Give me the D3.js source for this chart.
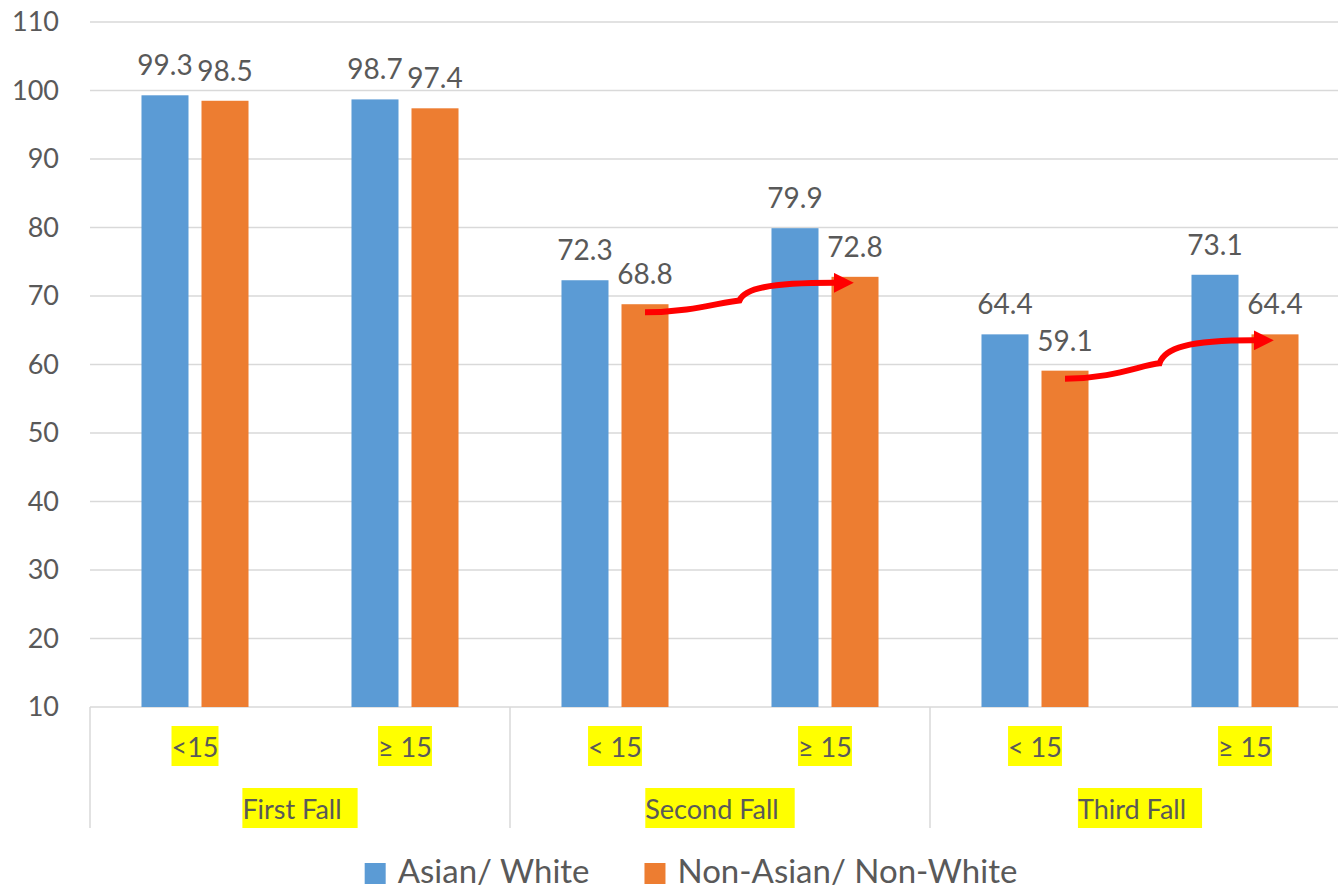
<!DOCTYPE html>
<html>
<head>
<meta charset="utf-8">
<script src="https://cdn.jsdelivr.net/npm/d3@7"></script>
<style>
  body { margin: 0; background: #fff; }
  text { font-family: Lato, "Open Sans", sans-serif; fill: #595959; }
</style>
</head>
<body>
<svg id="main" width="1338" height="890"></svg>
<script>
// chart data
var groups = ["First Fall", "Second Fall", "Third Fall"];
var subLabels = ["<15", "\u2265 15", "< 15", "\u2265 15", "< 15", "\u2265 15"];
var seriesNames = ["Asian/ White", "Non-Asian/ Non-White"];
var asianWhite = [99.3, 98.7, 72.3, 79.9, 64.4, 73.1];
var nonAsianWhite = [98.5, 97.4, 68.8, 72.8, 59.1, 64.4];
var yTicks = [10, 20, 30, 40, 50, 60, 70, 80, 90, 100, 110];
// red arrows: from sub-category -> to sub-category (orange series)
var arrowFrom = [2, 4];
var arrowTo = [3, 5];

var colors = ["#5B9BD5", "#ED7D31"];
var plotLeft = 90, plotRight = 1350, plotTop = 22, plotBottom = 707;

var svg = d3.select("#main");

var y = d3.scaleLinear().domain([10, 110]).range([plotBottom, plotTop]);
var x0 = d3.scaleBand().domain(d3.range(subLabels.length)).range([plotLeft, plotRight]);
var x1 = d3.scaleBand().domain([0, 1]).range([0, x0.bandwidth()])
    .paddingInner(13 / 60).paddingOuter(0.858);

var values = [asianWhite, nonAsianWhite];

// gridlines
svg.append("g").selectAll("line")
    .data(yTicks)
    .join("line")
    .attr("x1", plotLeft).attr("x2", plotRight)
    .attr("y1", function(d) { return y(d); })
    .attr("y2", function(d) { return y(d); })
    .attr("stroke", "#d9d9d9")
    .attr("stroke-width", 1.5);

// y labels
svg.append("g").selectAll("text")
    .data(yTicks)
    .join("text")
    .attr("x", 59)
    .attr("y", function(d) { return y(d); })
    .attr("dy", "0.35em")
    .attr("text-anchor", "end")
    .attr("font-size", "27px")
    .text(function(d) { return d; });

// group dividers below the axis
var divX = [0, 2, 4, 6].map(function(i) { return plotLeft + i * x0.step(); });
svg.append("g").selectAll("line")
    .data(divX)
    .join("line")
    .attr("x1", function(d) { return d; }).attr("x2", function(d) { return d; })
    .attr("y1", plotBottom).attr("y2", 828)
    .attr("stroke", "#d9d9d9")
    .attr("stroke-width", 1.5);

// bars + data labels
values.forEach(function(vals, s) {
    var g = svg.append("g");
    g.selectAll("rect")
        .data(vals)
        .join("rect")
        .attr("x", function(d, i) { return x0(i) + x1(s); })
        .attr("y", function(d) { return y(d); })
        .attr("width", x1.bandwidth())
        .attr("height", function(d) { return plotBottom - y(d); })
        .attr("fill", colors[s]);
    g.selectAll("text")
        .data(vals)
        .join("text")
        .attr("x", function(d, i) { return x0(i) + x1(s) + x1.bandwidth() / 2; })
        .attr("y", function(d) { return y(d) - 20; })
        .attr("text-anchor", "middle")
        .attr("font-size", "28px")
        .text(function(d) { return d.toFixed(1); });
});

// highlighted labels (yellow background)
function yellowLabel(cx, baseline, label, extra) {
    var g = svg.append("g");
    var r = g.append("rect").attr("fill", "#FFFF00");
    var t = g.append("text")
        .attr("x", cx - extra / 2)
        .attr("y", baseline)
        .attr("text-anchor", "middle")
        .attr("font-size", "27px")
        .text(label);
    var b = t.node().getBBox();
    r.attr("x", b.x).attr("y", baseline - 31)
        .attr("width", b.width + extra).attr("height", 40);
}

subLabels.forEach(function(lab, i) {
    yellowLabel(x0(i) + x0.bandwidth() / 2, 757, lab, 0);
});
groups.forEach(function(lab, i) {
    yellowLabel(plotLeft + (2 * i + 1) * x0.step(), 819, lab, 16);
});

// red curved arrows
svg.append("defs").append("marker")
    .attr("id", "head")
    .attr("viewBox", "0 0 10 10")
    .attr("refX", 0).attr("refY", 5)
    .attr("markerWidth", 3.3).attr("markerHeight", 3.3)
    .attr("orient", "auto")
    .append("path")
    .attr("d", "M0,0 L10,5 L0,10 Z")
    .attr("fill", "#FF0000");

function arrowPath(xa, ya, xb, yb) {
    var xm = (xa + xb) / 2, dy = ya - yb, ym = ya - 0.4 * dy;
    return "M" + xa + "," + ya +
        " C" + (xa + 0.5 * (xm - xa)) + "," + ya + " " + (xm - 0.2 * (xm - xa)) + "," + (ym + 0.05 * dy) + " " + xm + "," + ym +
        " C" + (xm + 5) + "," + (ym - 0.4 * dy) + " " + (xm + 0.3 * (xb - xm)) + "," + yb + " " + xb + "," + yb;
}

arrowFrom.forEach(function(a, k) {
    var b = arrowTo[k];
    var xa = x0(a) + x1(1) + x1.bandwidth() / 2;
    var ya = y(nonAsianWhite[a]) + 8;
    var xb = x0(b) + x1(1) + x1.bandwidth() / 2 - 2 - 19;
    var yb = y(nonAsianWhite[b]) + 6;
    svg.append("path")
        .attr("d", arrowPath(xa, ya, xb, yb))
        .attr("fill", "none")
        .attr("stroke", "#FF0000")
        .attr("stroke-width", 6)
        .attr("marker-end", "url(#head)");
});

// legend
var legend = svg.append("g");
var lx = 0;
seriesNames.forEach(function(name, s) {
    legend.append("rect")
        .attr("x", lx).attr("y", 863)
        .attr("width", 21).attr("height", 21)
        .attr("fill", colors[s]);
    var t = legend.append("text")
        .attr("x", lx + 33).attr("y", 883)
        .attr("font-size", "33px")
        .text(name);
    lx += 33 + t.node().getComputedTextLength() + 55;
});
var lw = lx - 55;
legend.attr("transform", "translate(" + (691 - lw / 2) + ",0)");
</script>
</body>
</html>
